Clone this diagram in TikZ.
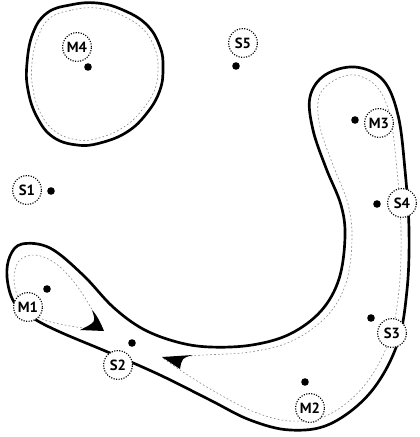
\documentclass[tikz,border=0pt]{standalone}
\usepackage{fontspec}
\setsansfont{PT Sans}
\usepackage{tikz}

\begin{document}
\begin{tikzpicture}[x=0.025cm, y=-0.025cm,
  font=\sffamily\bfseries\fontsize{10.5}{11}\selectfont,
  rim/.style={draw, line width=1.9pt, line join=round},
  inner/.style={draw=black!45, line width=0.45pt, dash pattern=on 1.2pt off 1.6pt},
  tag/.style={circle, draw, densely dotted, line width=0.8pt, fill=white, minimum size=0.72cm, inner sep=0pt},
  pt/.style={circle, fill=black, minimum size=0.19cm, inner sep=0pt}]
\useasboundingbox (0,0) rectangle (420,437);
% blob round M4
\draw[inner] plot[smooth cycle, tension=0.7] coordinates {(50,18) (72,10) (97,8) (121,15) (143,29) (155,49) (158,67) (155,89) (142,110) (124,127) (99,138) (78,140) (56,132) (41,114) (33,89) (32,63) (38,37)};
\draw[rim] plot[smooth cycle, tension=0.7] coordinates {(47,13) (70,5) (97,3) (123,10) (147,25) (160,47) (163,67) (160,90) (147,113) (127,132) (100,143) (77,145) (53,137) (37,117) (28,90) (27,63) (33,33)};
% the hooked region
\draw[inner] plot[smooth, tension=0.6] coordinates {(163,358) (205,355) (250,352) (292,341) (327,316) (346,283) (352,240) (348,204) (333,165) (320,127) (319,97) (333,81) (355,75) (377,87) (390,116) (397,170) (401,230) (399,290) (389,341) (364,386) (328,415) (290,421) (252,411) (212,390) (180,370) (163,358)};
\draw[inner] plot[smooth, tension=0.6] coordinates {(103,330) (90,306) (74,282) (55,263) (35,255) (19,261) (14,280) (20,300) (40,318) (70,326) (103,330)};
\fill (162,357) -- (193,355) .. controls (182,358) .. (180,369) -- cycle;
\fill (104,331) .. controls (100,321) and (96,314) .. (92,310) .. controls (96,322) .. (80,330) -- cycle;
\draw[rim] plot[smooth cycle, tension=0.6] coordinates {(22,244) (50,248) (83,275) (113,307) (143,329) (177,342) (210,347) (252,345) (290,334) (321,311) (339,279) (345,237) (341,205) (326,168) (313,130) (310,97) (325,75) (355,67) (383,80) (398,115) (405,170) (409,230) (407,290) (397,345) (370,393) (330,424) (290,430) (250,420) (210,400) (160,375) (110,353) (60,332) (33,318) (14,302) (7,277) (10,256)};
% sites and labels
\node[pt] (dM4) at (88,67) {};
\node[tag] (M4) at (77,47) {M4};
\node[pt] (dS5) at (236,66) {};
\node[tag] (S5) at (243,43) {S5};
\node[pt] (dS1) at (51,191) {};
\node[tag] (S1) at (27,190) {S1};
\node[pt] (dM3) at (355,120) {};
\node[tag] (M3) at (379,123) {M3};
\node[pt] (dS4) at (377,204) {};
\node[tag] (S4) at (402,203) {S4};
\node[pt] (dM1) at (47,289) {};
\node[tag] (M1) at (28,307) {M1};
\node[pt] (dS2) at (132,343) {};
\node[tag] (S2) at (118,365) {S2};
\node[pt] (dS3) at (371,318) {};
\node[tag] (S3) at (392,333) {S3};
\node[pt] (dM2) at (305,382) {};
\node[tag] (M2) at (310,408) {M2};
\end{tikzpicture}
\end{document}
